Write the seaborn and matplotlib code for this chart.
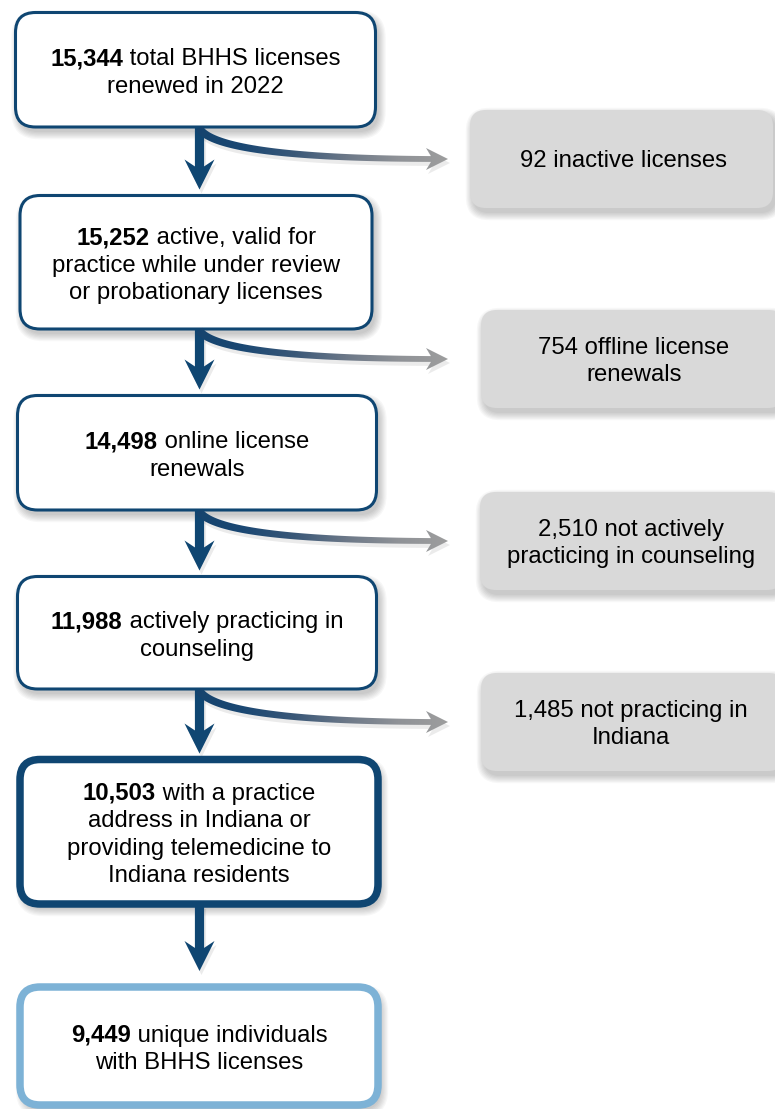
import matplotlib
matplotlib.use("Agg")
import matplotlib.pyplot as plt
import seaborn as sns
import numpy as np
from matplotlib.patches import FancyBboxPatch, Polygon

# ---------------- data ----------------
main_counts = [15344, 15252, 14498, 11988, 10503, 9449]
main_texts = [
    ["{n} total BHHS licenses", "renewed in 2022"],
    ["{n} active, valid for", "practice while under review", "or probationary licenses"],
    ["{n} online license", "renewals"],
    ["{n} actively practicing in", "counseling"],
    ["{n} with a practice", "address in Indiana or", "providing telemedicine to", "Indiana residents"],
    ["{n} unique individuals", "with BHHS licenses"],
]
excluded_counts = [92, 754, 2510, 1485]
excluded_texts = [
    ["{n} inactive licenses"],
    ["{n} offline license", "renewals"],
    ["{n} not actively", "practicing in counseling"],
    ["{n} not practicing in", "Indiana"],
]

# ---------------- layout (pixel units) ----------------
W, H = 775, 1109
main_boxes = [  # x0, y0, x1, y1 (border centre line)
    (15.5, 12.5, 375.5, 127),
    (20, 195.5, 372, 329),
    (17.5, 395.5, 376.5, 510),
    (17.5, 576.5, 376.5, 689),
    (20, 759.5, 378, 904),
    (20, 987, 378, 1105),
]
main_lw = [2.2, 2.2, 2.2, 2.2, 5.4, 5.4]
DARK = "#0F4672"
LIGHT = "#7DB2D6"
main_ec = [DARK] * 5 + [LIGHT]
side_boxes = [
    (470, 110, 773, 208),
    (481, 310, 784, 408),
    (480, 492, 783, 590),
    (481, 673, 784, 771),
]
side_text_x = [624, 634, 631, 631]
GREY_BOX = "#D9D9D9"
FS = 17.2
LINE_H = 27.5

sns.set_theme(style="white")
plt.rcParams["font.family"] = ["Liberation Sans", "DejaVu Sans"]

fig = plt.figure(figsize=(W / 100, H / 100), dpi=100)
ax = fig.add_axes([0, 0, 1, 1])
ax.set_xlim(0, W)
ax.set_ylim(H, 0)
ax.axis("off")
renderer = fig.canvas.get_renderer()

grad_cols = np.array(sns.blend_palette(
    ["#15436D", "#1B4873", "#3A5878", "#6C7888", "#8F9297", "#9E9E9E"], 256))


def shadow(x0, y0, x1, y1, r, dx=3, dy=5, layers=7, alpha=0.03):
    for k in range(layers):
        e = k * 1.2
        p = FancyBboxPatch((x0 + dx - e, y0 + dy - e), (x1 - x0) + 2 * e, (y1 - y0) + 2 * e,
                           boxstyle=f"round,pad=0,rounding_size={r + e}",
                           fc="black", ec="none", alpha=alpha, zorder=1)
        ax.add_patch(p)


def box(x0, y0, x1, y1, r, fc, ec, lw):
    p = FancyBboxPatch((x0, y0), x1 - x0, y1 - y0,
                       boxstyle=f"round,pad=0,rounding_size={r}",
                       fc=fc, ec=ec if ec else "none", lw=lw, zorder=3)
    ax.add_patch(p)


def text_lines(cx, cy, lines, n, bold_number):
    total = (len(lines) - 1) * LINE_H
    for i, line in enumerate(lines):
        yb = cy - total / 2 + i * LINE_H + 7.8
        if "{n}" in line and bold_number:
            pre, post = line.split("{n}")
            tb = ax.text(0, yb, f"{n:,}", fontsize=FS, fontweight="bold", ha="left",
                         va="baseline", color="black", zorder=5)
            tr = ax.text(0, yb, post, fontsize=FS, ha="left", va="baseline",
                         color="black", zorder=5)
            wb = tb.get_window_extent(renderer).width
            wr = tr.get_window_extent(renderer).width
            x = cx - (wb + wr) / 2
            tb.set_x(x)
            tr.set_x(x + wb)
        else:
            ax.text(cx, yb, line.format(n=f"{n:,}"), fontsize=FS, ha="center",
                    va="baseline", color="black", zorder=5)


def down_arrow(cx, y0, y1, color=DARK):
    hw, sw, L, notch = 15, 4.6, 30, 10
    yb = y1 - L
    pts = [(cx - sw, y0), (cx + sw, y0), (cx + sw, yb + notch * (1 - sw / hw)),
           (cx + hw, yb), (cx, y1), (cx - hw, yb), (cx - sw, yb + notch * (1 - sw / hw))]
    sh = [(x + 2, y + 4) for x, y in pts]
    ax.add_patch(Polygon(sh, closed=True, fc="black", ec="none", alpha=0.08, zorder=2))
    ax.add_patch(Polygon(pts, closed=True, fc=color, ec="none", zorder=4))


def side_arrow(x0, y0, tip_x, tip_y):
    hh, L, notch = 11, 22, 5
    xb = tip_x - L
    end_x = xb + notch
    p0 = np.array([x0, y0])
    p1 = np.array([x0 + 18, tip_y - 1])
    p2 = np.array([end_x, tip_y])
    t = np.linspace(0, 1, 200)[:, None]
    pts = (1 - t) ** 2 * p0 + 2 * t * (1 - t) * p1 + t ** 2 * p2
    d = 2 * (1 - t) * (p1 - p0) + 2 * t * (p2 - p1)
    d = d / np.linalg.norm(d, axis=1, keepdims=True)
    nrm = np.column_stack([-d[:, 1], d[:, 0]])
    w = np.linspace(4.0, 2.9, len(pts))[:, None]
    upper = pts - nrm * w
    lower = pts + nrm * w
    head = np.array([(xb, tip_y - hh), (tip_x, tip_y), (xb, tip_y + hh)])
    poly = np.vstack([upper, head, lower[::-1]])
    # shadow
    ax.add_patch(Polygon(poly + np.array([2, 4]), closed=True, fc="black", ec="none",
                         alpha=0.08, zorder=2))
    clip = Polygon(poly, closed=True, fc="none", ec="none", zorder=4)
    ax.add_patch(clip)
    img = grad_cols[None, :, :]
    im = ax.imshow(img, extent=(x0 - 8, tip_x + 2, tip_y + 20, y0 - 8),
                   aspect="auto", interpolation="bilinear", zorder=4)
    im.set_clip_path(clip)


# main boxes
for (x0, y0, x1, y1), lw, ec, n, lines in zip(main_boxes, main_lw, main_ec, main_counts, main_texts):
    shadow(x0, y0, x1, y1, 20)
    box(x0, y0, x1, y1, 20, "white", ec, lw)
    text_lines((x0 + x1) / 2, (y0 + y1) / 2 + 1.5, lines, n, True)

# excluded boxes
for (x0, y0, x1, y1), n, lines, tx in zip(side_boxes, excluded_counts, excluded_texts, side_text_x):
    shadow(x0, y0, x1, y1, 16)
    box(x0, y0, x1, y1, 16, GREY_BOX, None, 0)
    text_lines(tx, (y0 + y1) / 2 + 0.5, lines, n, False)

# vertical arrows
for i in range(len(main_boxes) - 1):
    y0 = main_boxes[i][3] + 1
    y1 = main_boxes[i + 1][1] - 6 if i < 4 else main_boxes[i + 1][1] - 16
    down_arrow(199.5, y0, y1)

# side arrows
for i, sb in enumerate(side_boxes):
    y0 = main_boxes[i][3] + 1
    tip_y = (sb[1] + sb[3]) / 2
    side_arrow(199, y0, 448, tip_y)

ax.set_xlim(0, W)
ax.set_ylim(H, 0)
fig.savefig("out.png", dpi=100, facecolor="white")
